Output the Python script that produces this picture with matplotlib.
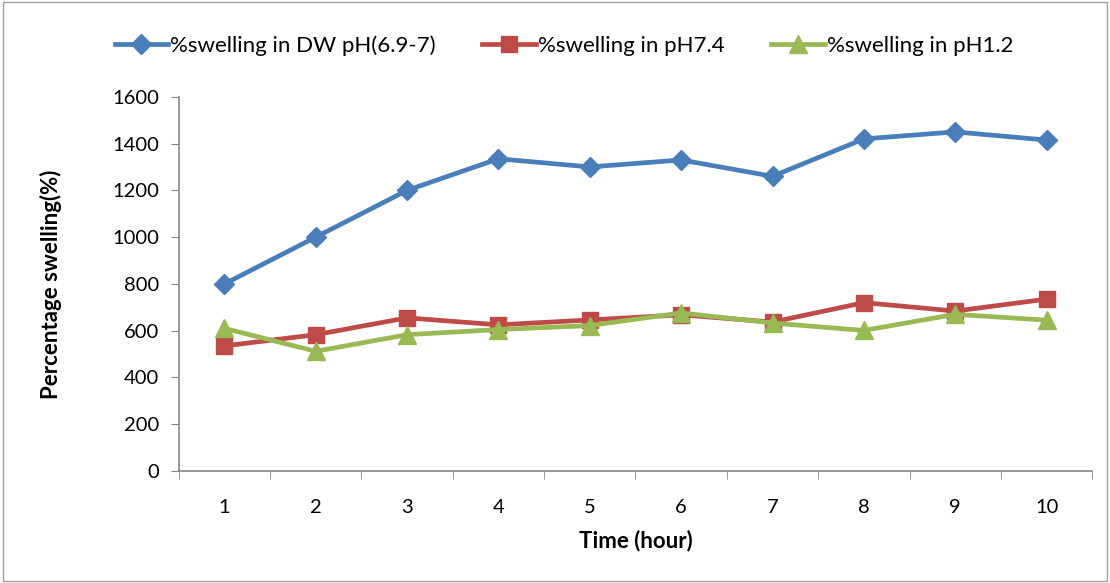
import matplotlib
matplotlib.use("Agg")
import matplotlib.pyplot as plt
from matplotlib.patches import Rectangle

hours = [1, 2, 3, 4, 5, 6, 7, 8, 9, 10]
dw = [800, 1000, 1200, 1335, 1300, 1330, 1260, 1420, 1450, 1415]
ph74 = [535, 583, 655, 625, 646, 668, 637, 720, 684, 735]
ph12 = [610, 512, 583, 605, 622, 676, 633, 601, 670, 645]
labels = ["%swelling in DW pH(6.9-7)", "%swelling in pH7.4", "%swelling in pH1.2"]
yticks = [0, 200, 400, 600, 800, 1000, 1200, 1400, 1600]

plt.rcParams['font.family'] = ['Lato', 'DejaVu Sans']

fig = plt.figure(figsize=(11.1, 5.83), dpi=100)
ax = fig.add_axes([0.161, 0.192, 0.823, 0.642])

ax.plot(hours, dw, color='#4A7EBB', lw=3.4, marker='D', ms=10, label=labels[0])
ax.plot(hours, ph74, color='#BE4B48', lw=3.4, marker='s', ms=12, label=labels[1])
ax.plot(hours, ph12, color='#98B954', lw=3.4, marker='^', ms=13, label=labels[2])

ax.set_xlim(0.5, 10.5)
ax.set_ylim(0, 1600)
ax.set_yticks(yticks)
ax.set_xticks(hours)
ax.set_xticks([h + 0.5 for h in [0] + hours], minor=True)
ax.tick_params(axis='x', which='major', length=0, labelsize=14.5, pad=20)
ax.tick_params(axis='x', which='minor', length=6, color='#868686', direction='out')
ax.tick_params(axis='y', length=6, color='#868686', direction='out', labelsize=14.5, pad=8)
for s in ['top', 'right']:
    ax.spines[s].set_visible(False)
for s in ['left', 'bottom']:
    ax.spines[s].set_color('#868686')
    ax.spines[s].set_linewidth(1.2)

ax.set_xlabel('Time (hour)', fontsize=16, fontweight='bold', labelpad=10)
ax.set_ylabel('Percentage swelling(%)', fontsize=16, fontweight='bold', labelpad=36)

fig.legend(loc='center', bbox_to_anchor=(0.508, 0.922), ncol=3, frameon=False,
           fontsize=16, handlelength=2.4, handletextpad=0.1, columnspacing=2.1)

fig.patches.append(Rectangle((0.003, 0.003), 0.994, 0.994, transform=fig.transFigure,
                             fill=False, edgecolor='#A0A0A0', lw=1))

fig.savefig('out.png', dpi=100)
